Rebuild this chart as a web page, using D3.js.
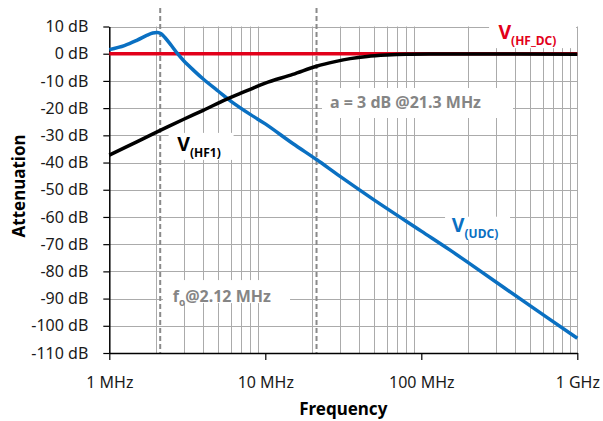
<!DOCTYPE html>
<html><head><meta charset="utf-8">
<script src="https://cdn.jsdelivr.net/npm/d3@7"></script>
<style>
html,body{margin:0;padding:0;background:#fff;}
svg{display:block;font-family:"Noto Sans",sans-serif;}
</style></head>
<body>
<svg id="chart" width="603" height="421"></svg>
<script>
// ---- data (frequency in MHz, attenuation in dB) ----
const xTickValues = [1, 10, 100, 1000];
const xTickLabels = ["1 MHz", "10 MHz", "100 MHz", "1 GHz"];
const yTickValues = [10, 0, -10, -20, -30, -40, -50, -60, -70, -80, -90, -100, -110];

const hfdcFreq = [1, 1000];
const hfdcDb = [0, 0];

const udcFreq = [1, 1.25, 1.5, 1.75, 1.9, 2.03, 2.15, 2.3, 2.5, 2.74, 3, 3.5, 4, 5, 6, 8, 10, 15, 21.3, 30, 50, 100, 153, 200, 500, 1000];
const udcDb = [1.5, 3.0, 4.9, 6.8, 7.6, 7.8, 7.3, 5.6, 3.0, 0, -2.6, -6.3, -9.3, -13.8, -17.4, -22.3, -25.8, -33.0, -38.9, -45.0, -53.8, -65.2, -72.2, -76.8, -92.7, -104.6];

const hf1Freq = [1, 1.5, 2.12, 3, 4, 5.62, 6.91, 8, 10, 15, 21.3, 28, 35, 45, 60, 80, 120, 200, 1000];
const hf1Db = [-37.3, -32.4, -28.2, -24.1, -20.8, -16.8, -14.6, -13.1, -10.8, -7.6, -4.6, -2.9, -1.8, -1.0, -0.5, -0.2, -0.1, -0.1, -0.2];

const markerFreqs = [2.12, 21.3];

// ---- layout ----
const svg = d3.select("#chart");
const x = d3.scaleLog().domain([1, 1000]).range([109.3, 577.3]);
const y = d3.scaleLinear().domain([-110, 10]).range([353, 26.5]);
const gridColor = "#ababab";
const grey = "#858585";
const FONT = "'Noto Sans', sans-serif";

// grid
const minor = [];
for (let d = 1; d < 1000; d *= 10) for (let k = 2; k <= 9; k++) minor.push(d * k);
minor.push(1000);
const gGrid = svg.append("g");
gGrid.selectAll("line.v").data(minor).join("line")
  .attr("x1", d => Math.round(x(d)) + 0.5).attr("x2", d => Math.round(x(d)) + 0.5)
  .attr("y1", y(10)).attr("y2", y(-110))
  .attr("stroke", gridColor).attr("stroke-width", 1);
gGrid.selectAll("line.h").data(yTickValues).join("line")
  .attr("x1", x(1)).attr("x2", x(1000))
  .attr("y1", d => Math.round(y(d)) + 0.5).attr("y2", d => Math.round(y(d)) + 0.5)
  .attr("stroke", gridColor).attr("stroke-width", 1);

// dashed markers
svg.append("g").selectAll("line").data(markerFreqs).join("line")
  .attr("x1", d => x(d)).attr("x2", d => x(d))
  .attr("y1", 8).attr("y2", y(-110))
  .attr("stroke", "#8a8a8a").attr("stroke-width", 2).attr("stroke-dasharray", "5,3");

// label boxes (white backgrounds)
function box(f0, db0, w, h) {
  svg.append("rect").attr("x", x(f0)).attr("y", y(db0)).attr("width", w).attr("height", h).attr("fill", "#fff");
}
box(2.4, -29.1, 65, 27);         // V(HF1)
box(23.1, -12.6, 191, 30);       // a = 3 dB
box(2.21, -83.2, 127, 23);       // f0
box(142, -59.9, 65, 23);         // V(UDC)
box(272, 11.6, 87, 26);          // V(HF_DC)

// axes
const yAxis = d3.axisLeft(y).tickValues(yTickValues).tickSize(6).tickSizeOuter(0)
  .tickFormat(d => `${d} dB`);
const gy = svg.append("g").attr("transform", `translate(${x(1)},0)`).call(yAxis);
gy.select(".domain").attr("stroke", "#000").attr("stroke-width", 1.5);
gy.selectAll(".tick line").attr("stroke", "#000").attr("stroke-width", 1.2);
gy.selectAll(".tick text").attr("x", -21).attr("fill", "#1a1a1a")
  .style("font-size", "16px").style("font-family", FONT);

const xAxis = d3.axisBottom(x).tickValues(xTickValues).tickSize(7).tickSizeOuter(0)
  .tickFormat((d, i) => xTickLabels[i]);
const gx = svg.append("g").attr("transform", `translate(0,${y(-110)})`).call(xAxis);
gx.select(".domain").attr("stroke", "#000").attr("stroke-width", 1.5);
gx.selectAll(".tick line").attr("stroke", "#000").attr("stroke-width", 1.2);
gx.selectAll(".tick text").attr("y", 24).attr("fill", "#1a1a1a")
  .style("font-size", "16px").style("font-family", FONT);

// axis titles
svg.append("text").attr("x", x(31.6)).attr("y", 415).attr("text-anchor", "middle")
  .style("font-size", "17px").style("font-weight", "bold").style("font-family", FONT).text("Frequency");
svg.append("text").attr("transform", `translate(25,${y(-48.6)}) rotate(-90)`).attr("text-anchor", "middle")
  .style("font-size", "17px").style("font-weight", "bold").style("font-family", FONT).text("Attenuation");

// curves
const line = d3.line().x(d => x(d[0])).y(d => y(d[1])).curve(d3.curveCatmullRom.alpha(0.5));
function series(fr, db, color, w) {
  svg.append("path").datum(fr.map((f, i) => [f, db[i]]))
    .attr("d", line).attr("fill", "none").attr("stroke", color)
    .attr("stroke-width", w).attr("stroke-linejoin", "round");
}
series(hfdcFreq, hfdcDb, "#e2001a", 3.5);
series(udcFreq, udcDb, "#0a70c2", 3.5);
series(hf1Freq, hf1Db, "#000000", 3.5);

// labels
function vlabel(f, db, sub, color) {
  const t = svg.append("text").attr("x", x(f)).attr("y", y(db)).attr("fill", color)
    .style("font-weight", "bold").style("font-size", "19.5px").style("font-family", FONT);
  t.append("tspan").text("V");
  t.append("tspan").attr("dy", 6).style("font-size", "12px").text(sub);
}
vlabel(2.73, -35.6, "(HF1)", "#000");
vlabel(157, -65.6, "(UDC)", "#0a70c2");
vlabel(312, 5.3, "(HF_DC)", "#e2001a");

svg.append("text").attr("x", x(26)).attr("y", y(-20.1)).attr("fill", grey)
  .style("font-weight", "bold").style("font-size", "16px").style("font-family", FONT)
  .text("a = 3 dB @21.3 MHz");

const f0 = svg.append("text").attr("x", x(2.55)).attr("y", y(-91.2)).attr("fill", grey)
  .style("font-weight", "bold").style("font-size", "16px").style("font-family", FONT);
f0.append("tspan").text("f");
f0.append("tspan").attr("dy", 4).style("font-size", "10px").text("o");
f0.append("tspan").attr("dy", -4).text("@2.12 MHz");
</script>
</body></html>
